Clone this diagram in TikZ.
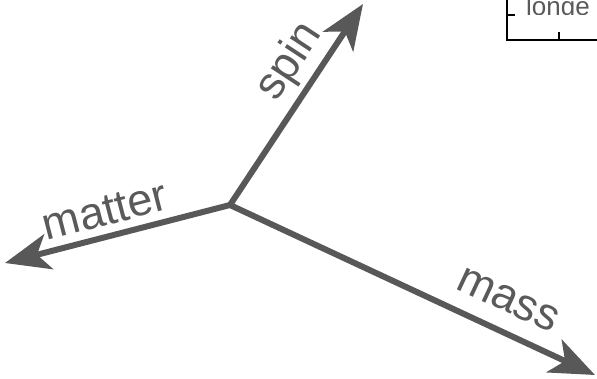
\documentclass[tikz,border=0pt]{standalone}
\usepackage{fontspec}
\setmainfont{Liberation Sans}
\usetikzlibrary{arrows.meta}
\definecolor{axisgrey}{HTML}{585858}
\definecolor{textgrey}{HTML}{5A5A5A}
\begin{document}
\begin{tikzpicture}[x=1pt,y=-1pt,
  axis/.style={draw=axisgrey,line width=6pt,-{Stealth[length=45pt,width=36pt,inset=12pt]}},
  axlabel/.style={text=textgrey,font=\fontsize{45}{45}\selectfont,inner sep=0pt},
  boxline/.style={draw=black,line width=2pt}]
\useasboundingbox (0,0) rectangle (597,379);
\coordinate (c) at (230,205);
\coordinate (spinend) at (363,4);
\coordinate (matterend) at (5,263);
\coordinate (massend) at (595,375);
\draw[axis] (c) -- (spinend);
\draw[axis] (c) -- (matterend);
\draw[axis] (c) -- (massend);
\node[axlabel,rotate=56.6] (spin) at (290,62) {spin};
\node[axlabel,rotate=14.5] (matter) at (105,211) {matter};
\node[axlabel,rotate=-25] (mass) at (508,300) {mass};
% partial legend box
\coordinate (bl) at (507,40);
\coordinate (tl) at (507,0);
\coordinate (br) at (597,40);
\draw[boxline] (tl) -- (bl) -- (br);
\coordinate (t1a) at (507,15);
\coordinate (t1b) at (515,15);
\draw[boxline] (t1a) -- (t1b);
\coordinate (t2a) at (559,32);
\coordinate (t2b) at (559,40);
\draw[boxline] (t2a) -- (t2b);
\begin{scope}
\clip (509,0) rectangle (597,15);
\node[anchor=base west,text=textgrey,inner sep=0pt] (longe) at (526,16) {\fontsize{26}{30}\selectfont longe};
\end{scope}
\end{tikzpicture}
\end{document}
